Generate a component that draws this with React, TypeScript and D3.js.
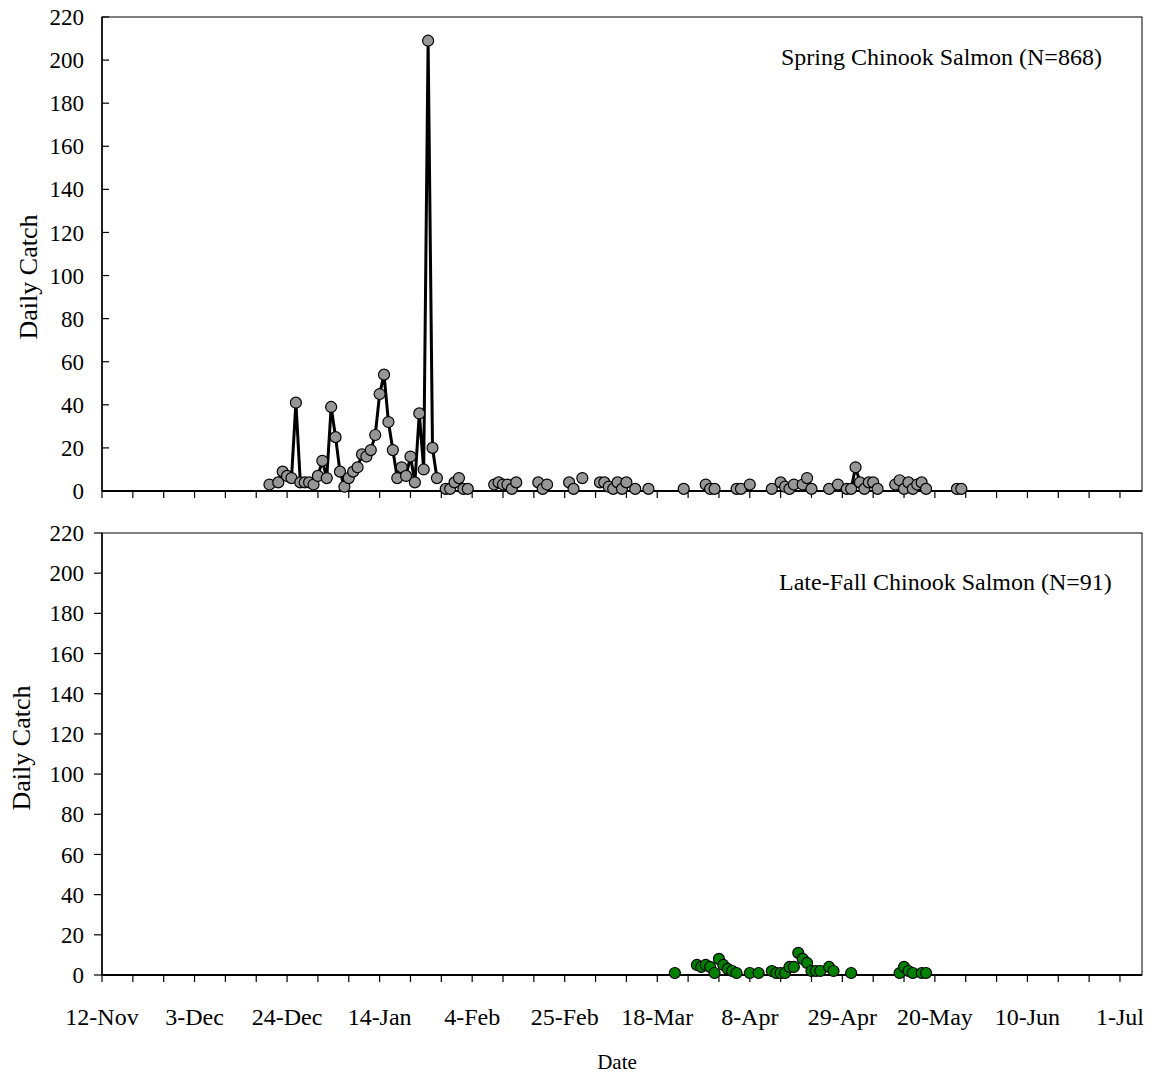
import React from "react";
import * as d3 from "d3";

// ---------- data ----------
const springDates = [
  "2004-12-20", "2004-12-22", "2004-12-23", "2004-12-24", "2004-12-25", "2004-12-26", "2004-12-27",
  "2004-12-28", "2004-12-29", "2004-12-30", "2004-12-31", "2005-01-01", "2005-01-02", "2005-01-03",
  "2005-01-04", "2005-01-05", "2005-01-06", "2005-01-07", "2005-01-08", "2005-01-09", "2005-01-10",
  "2005-01-11", "2005-01-12", "2005-01-13", "2005-01-14", "2005-01-15", "2005-01-16", "2005-01-17",
  "2005-01-18", "2005-01-19", "2005-01-20", "2005-01-21", "2005-01-22", "2005-01-23", "2005-01-24",
  "2005-01-25", "2005-01-26", "2005-01-27", "2005-01-29", "2005-01-30", "2005-01-31", "2005-02-01",
  "2005-02-02", "2005-02-03",
  "2005-02-09", "2005-02-10", "2005-02-11", "2005-02-12", "2005-02-13", "2005-02-14",
  "2005-02-19", "2005-02-20", "2005-02-21",
  "2005-02-26", "2005-02-27", "2005-03-01",
  "2005-03-05", "2005-03-06", "2005-03-07", "2005-03-08", "2005-03-09", "2005-03-10", "2005-03-11",
  "2005-03-13", "2005-03-16", "2005-03-24",
  "2005-03-29", "2005-03-30", "2005-03-31",
  "2005-04-05", "2005-04-06", "2005-04-08",
  "2005-04-13", "2005-04-15", "2005-04-16", "2005-04-17", "2005-04-18", "2005-04-20", "2005-04-21", "2005-04-22",
  "2005-04-26", "2005-04-28", "2005-04-30", "2005-05-01", "2005-05-02", "2005-05-03", "2005-05-04",
  "2005-05-05", "2005-05-06", "2005-05-07",
  "2005-05-11", "2005-05-12", "2005-05-13", "2005-05-14", "2005-05-15", "2005-05-16", "2005-05-17", "2005-05-18",
  "2005-05-25", "2005-05-26",
];
const springCatch = [
  3, 4, 9, 7, 6, 41, 4,
  4, 4, 3, 7, 14, 6, 39,
  25, 9, 2, 6, 9, 11, 17,
  16, 19, 26, 45, 54, 32, 19,
  6, 11, 7, 16, 4, 36, 10,
  209, 20, 6, 1, 1, 4, 6,
  1, 1,
  3, 4, 3, 3, 1, 4,
  4, 1, 3,
  4, 1, 6,
  4, 4, 2, 1, 4, 1, 4,
  1, 1, 1,
  3, 1, 1,
  1, 1, 3,
  1, 4, 2, 1, 3, 3, 6, 1,
  1, 3, 1, 1, 11, 4, 1,
  4, 4, 1,
  3, 5, 1, 4, 1, 3, 4, 1,
  1, 1,
];

const lateFallDates = [
  "2005-03-22", "2005-03-27", "2005-03-28", "2005-03-29", "2005-03-30", "2005-03-31", "2005-04-01",
  "2005-04-02", "2005-04-03", "2005-04-04", "2005-04-05", "2005-04-08", "2005-04-10", "2005-04-13",
  "2005-04-14", "2005-04-15", "2005-04-16", "2005-04-17", "2005-04-18", "2005-04-19", "2005-04-20",
  "2005-04-21", "2005-04-22", "2005-04-23", "2005-04-24", "2005-04-26", "2005-04-27", "2005-05-01",
  "2005-05-12", "2005-05-13", "2005-05-14", "2005-05-15", "2005-05-17", "2005-05-18",
];
const lateFallCatch = [
  1, 5, 4, 5, 4, 1, 8,
  5, 3, 2, 1, 1, 1, 2,
  1, 1, 1, 4, 4, 11, 8,
  6, 2, 2, 2, 4, 2, 1,
  1, 4, 2, 1, 1, 1,
];

const yTicks = [0, 20, 40, 60, 80, 100, 120, 140, 160, 180, 200, 220];
const axisStart = "2004-11-12";
const axisEnd = "2005-07-06";
const lastTickDay = 231;
const panelTitles = ["Spring Chinook Salmon (N=868)", "Late-Fall Chinook Salmon (N=91)"];
const yTitle = "Daily Catch";
const xTitle = "Date";

// ---------- helpers ----------
const parse = d3.utcParse("%Y-%m-%d");
const fmt = d3.utcFormat("%-d-%b");
const FONT = "'Liberation Serif', 'Times New Roman', serif";

const W = 1155;
const H = 1075;
const left = 102;
const right = 1142;

const x = d3.scaleUtc().domain([parse(axisStart)!, parse(axisEnd)!]).range([left, right]);
const start = parse(axisStart)!;
const xTickDates: Date[] = [];
for (let t = 0; t <= lastTickDay; t += 7) xTickDates.push(d3.utcDay.offset(start, t));

type Pt = { date: Date; v: number };

function segments(pts: Pt[]): Pt[][] {
  const segs: Pt[][] = [];
  let cur: Pt[] = [];
  pts.forEach((p, i) => {
    if (i > 0 && d3.utcDay.count(pts[i - 1].date, p.date) !== 1) {
      segs.push(cur);
      cur = [];
    }
    cur.push(p);
  });
  if (cur.length) segs.push(cur);
  return segs;
}

function Panel(props: {
  dates: string[];
  values: number[];
  top: number;
  bottom: number;
  fill: string;
  showLine: boolean;
  title: string;
  titleY: number;
  titleX: number;
  yTitleX: number;
  yTitleY: number;
  yTickInside: boolean;
  showXLabels: boolean;
}) {
  const { dates, values, top, bottom, fill, showLine, title, titleY, titleX, yTitleX, yTitleY, yTickInside, showXLabels } =
    props;
  const y = d3.scaleLinear().domain([0, 220]).range([bottom, top]);
  const pts: Pt[] = dates.map((d, i) => ({ date: parse(d)!, v: values[i] }));
  const line = d3
    .line<Pt>()
    .x((d) => x(d.date))
    .y((d) => y(d.v));
  return (
    <g>
      <rect x={left} y={top} width={right - left} height={bottom - top} fill="none" stroke="#000" strokeWidth={1} />
      {yTicks.map((t) => (
        <g key={t}>
          <line
            x1={left}
            x2={yTickInside ? left + 7 : left - 8}
            y1={y(t)}
            y2={y(t)}
            stroke="#000"
            strokeWidth={1.2}
          />
          <text x={84} y={y(t)} dy="0.35em" textAnchor="end" fontFamily={FONT} fontSize={23}>
            {t}
          </text>
        </g>
      ))}
      <line x1={left} x2={left} y1={top} y2={bottom} stroke="#000" strokeWidth={1.5} />
      {xTickDates.map((d, i) => (
        <g key={i}>
          <line x1={x(d)} x2={x(d)} y1={bottom} y2={bottom + 7} stroke="#000" strokeWidth={1.2} />
          {showXLabels && i % 3 === 0 && (
            <text x={x(d)} y={bottom + 50} textAnchor="middle" fontFamily={FONT} fontSize={24}>
              {fmt(d)}
            </text>
          )}
        </g>
      ))}
      <line x1={left} x2={right} y1={bottom} y2={bottom} stroke="#000" strokeWidth={2} />
      <text
        transform={`translate(${yTitleX},${yTitleY}) rotate(-90)`}
        textAnchor="middle"
        fontFamily={FONT}
        fontSize={26}
      >
        {yTitle}
      </text>
      <text x={titleX} y={titleY} fontFamily={FONT} fontSize={24}>
        {title}
      </text>
      {showLine &&
        segments(pts).map((s, i) => (
          <path key={i} d={line(s) || ""} fill="none" stroke="#000" strokeWidth={3} strokeLinejoin="round" />
        ))}
      {pts.map((p, i) => (
        <circle key={i} cx={x(p.date)} cy={y(p.v)} r={5.5} fill={fill} stroke="#000" strokeWidth={1.2} />
      ))}
    </g>
  );
}

export default function App() {
  return (
    <svg
      width={W}
      height={H}
      style={{ position: "absolute", left: 0, top: 0, background: "#fff" }}
      xmlns="http://www.w3.org/2000/svg"
    >
      <rect width={W} height={H} fill="#fff" />
      <Panel
        dates={springDates}
        values={springCatch}
        top={17}
        bottom={491}
        fill="#969696"
        showLine={true}
        title={panelTitles[0]}
        titleX={781}
        titleY={65}
        yTitleX={37}
        yTitleY={277}
        yTickInside={true}
        showXLabels={false}
      />
      <Panel
        dates={lateFallDates}
        values={lateFallCatch}
        top={533}
        bottom={975}
        fill="#008000"
        showLine={false}
        title={panelTitles[1]}
        titleX={779}
        titleY={590}
        yTitleX={30}
        yTitleY={748}
        yTickInside={false}
        showXLabels={true}
      />
      <text x={617} y={1069} textAnchor="middle" fontFamily={FONT} fontSize={21}>
        {xTitle}
      </text>
    </svg>
  );
}
